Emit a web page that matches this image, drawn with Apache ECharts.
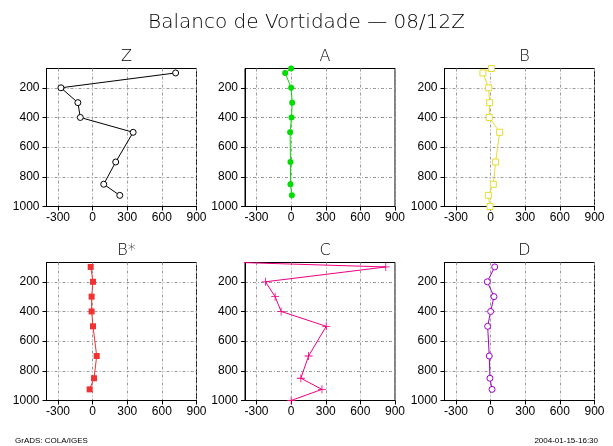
<!DOCTYPE html>
<html>
<head>
<meta charset="utf-8">
<script src="https://cdn.jsdelivr.net/npm/echarts@6/dist/echarts.min.js"></script>
<style>
  html, body { margin: 0; padding: 0; background: #fff; }
  #chart { width: 613px; height: 446px; }
</style>
</head>
<body>
<div id="chart"></div>
<script>
// Vorticity budget profiles (pressure levels in hPa)
const panelNames = ['Z', 'A', 'B', 'B*', 'C', 'D'];

const levelsZ = [100, 200, 300, 400, 500, 700, 850, 925];
const valuesZ = [719, -275, -128, -107, 351, 200, 96, 235];

const levelsA = [70, 100, 200, 300, 400, 500, 700, 850, 925];
const valuesA = [0, -52, 0, 9, 3, -9, -6, -6, 6];

const levelsB = [70, 100, 200, 300, 400, 500, 700, 850, 925, 1000];
const valuesB = [6, -67, -17, -9, -12, 78, 43, 23, -20, -6];

const levelsBstar = [100, 200, 300, 400, 500, 700, 850, 925];
const valuesBstar = [-17, 3, -9, -9, 3, 35, 12, -26];

const levelsC = [70, 100, 200, 300, 400, 500, 700, 850, 925, 1000];
const valuesC = [-440, 820, -223, -139, -87, 304, 151, 84, 267, 0];

const levelsD = [100, 200, 300, 400, 500, 700, 850, 925];
const valuesD = [35, -29, 29, 0, -26, -12, -6, 12];

const xTicks = [-300, 0, 300, 600, 900];
const yTicks = [200, 400, 600, 800, 1000];

const mainTitle = 'Balanco de Vortidade \u2014 08/12Z';
const footerLeft = 'GrADS: COLA/IGES';
const footerRight = '2004-01-15-16:30';

// thin crosshair marker
const plusPath = 'path://M4.5,0h1v4.5h4.5v1h-4.5v4.5h-1v-4.5h-4.5v-1h4.5z';

// open markers are drawn as white-filled shapes with a coloured outline
const panelSeries = [
  { levels: levelsZ, values: valuesZ, color: '#000000', symbol: 'circle', open: true, size: 6 },
  { levels: levelsA, values: valuesA, color: '#00dc00', symbol: 'circle', open: false, size: 6 },
  { levels: levelsB, values: valuesB, color: '#e6dc32', symbol: 'rect', open: true, size: 6 },
  { levels: levelsBstar, values: valuesBstar, color: '#f03232', symbol: 'rect', open: false, size: 6 },
  { levels: levelsC, values: valuesC, color: '#f00082', symbol: plusPath, open: false, size: 8 },
  { levels: levelsD, values: valuesD, color: '#a000c8', symbol: 'circle', open: true, size: 6 }
];

const colLeft = [46.5, 245, 444.5];
const rowTop = [68.5, 262.5];
const plotW = 150;
const plotH = 138;

const labelFont = { fontFamily: 'Liberation Sans, Arial, sans-serif', fontSize: 12, color: '#000' };
const gridLine = { show: true, lineStyle: { color: '#9a9a9a', width: 1, type: [3, 2, 1, 2] } };
const plainNumber = v => String(v);

const grids = [], xAxes = [], yAxes = [], series = [], titles = [];

titles.push({
  text: mainTitle, left: 'center', top: 8,
  textStyle: { fontFamily: 'DejaVu Sans, sans-serif', fontSize: 20, fontWeight: 'lighter', color: '#000' }
});

panelSeries.forEach((p, i) => {
  const col = i % 3, row = Math.floor(i / 3);
  grids.push({
    left: colLeft[col], top: rowTop[row], width: plotW, height: plotH,
    show: true, borderColor: '#000', borderWidth: 1, backgroundColor: 'transparent'
  });
  xAxes.push({
    type: 'value', gridIndex: i, min: -400, max: 900,
    axisLine: { show: true, onZero: false, lineStyle: { color: '#000', width: 1 } },
    axisTick: { show: true, customValues: xTicks, length: 4, lineStyle: { color: '#000' } },
    axisLabel: Object.assign({ customValues: xTicks, margin: 5, formatter: plainNumber }, labelFont),
    splitLine: Object.assign({ customValues: xTicks }, gridLine)
  });
  yAxes.push({
    type: 'value', gridIndex: i, min: 70, max: 1000, inverse: true,
    axisLine: { show: true, onZero: false, lineStyle: { color: '#000', width: 1 } },
    axisTick: { show: true, customValues: yTicks, length: 4, lineStyle: { color: '#000' } },
    axisLabel: Object.assign({ customValues: yTicks, margin: 7, formatter: plainNumber }, labelFont),
    splitLine: Object.assign({ customValues: yTicks }, gridLine)
  });
  series.push({
    type: 'line', xAxisIndex: i, yAxisIndex: i,
    data: p.levels.map((lev, k) => [p.values[k], lev]),
    symbol: p.symbol, symbolSize: p.size, showAllSymbol: true,
    clip: true, animation: false,
    lineStyle: { color: p.color, width: 1 },
    itemStyle: p.open
      ? { color: '#ffffff', borderColor: p.color, borderWidth: 1 }
      : { color: p.color, borderWidth: 0 },
    emphasis: { disabled: true }
  });
  titles.push({
    text: panelNames[i], left: colLeft[col] + plotW / 2, top: rowTop[row] - 25, textAlign: 'center',
    textStyle: { fontFamily: 'DejaVu Sans, sans-serif', fontSize: 16, fontWeight: 'lighter', color: '#000' }
  });
});

titles.push({
  text: footerLeft, left: 10, top: 432,
  textStyle: { fontFamily: 'Liberation Sans, sans-serif', fontSize: 8, fontWeight: 'normal', color: '#000' }
});
titles.push({
  text: footerRight, right: 10, top: 432,
  textStyle: { fontFamily: 'Liberation Sans, sans-serif', fontSize: 8, fontWeight: 'normal', color: '#000' }
});

const chart = echarts.init(document.getElementById('chart'), null, { renderer: 'canvas' });
chart.setOption({
  backgroundColor: '#fff',
  animation: false,
  title: titles,
  grid: grids,
  xAxis: xAxes,
  yAxis: yAxes,
  series: series
});
</script>
</body>
</html>
